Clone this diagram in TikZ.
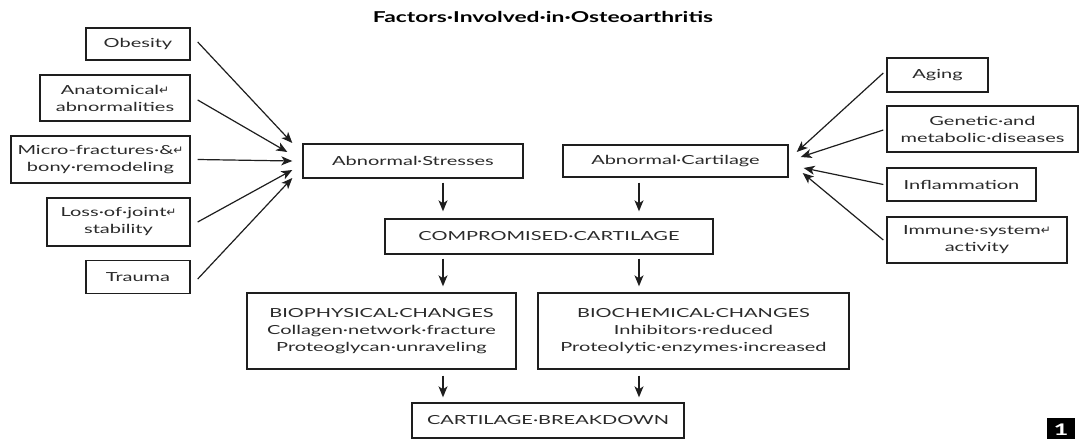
\documentclass[tikz,border=0pt]{standalone}
\usepackage{fontspec}
\setmainfont{Lato}[FakeStretch=1.6]
\newfontfamily\titlefont{Lato}[FakeStretch=1.52]
\newfontfamily\symfont{DejaVu Sans}
\newcommand\retmark{{\symfont\fontsize{12}{12}\selectfont\char"21B5}}
\usetikzlibrary{arrows.meta,calc}
\definecolor{ink}{HTML}{1E1E1E}
\definecolor{txt}{HTML}{2A2A2A}
\tikzset{
  box/.style={draw=ink, line width=1.4pt, align=center, inner sep=0pt,
    text=txt, font=\fontsize{12.5}{17}\selectfont},
  arr/.style={draw=ink, line width=1.2pt, -{Stealth[length=11pt,width=9pt,inset=3pt]}},
}
\begin{document}
\begin{tikzpicture}[x=1pt,y=-1pt]
  \useasboundingbox[fill=white] (0,0) rectangle (1080,439);

  % title
  \node[font=\titlefont\bfseries\fontsize{15}{18}\selectfont, text=black] (title) at (543,17)
    {Factors·Involved·in·Osteoarthritis};

  % mechanical factors (left)
  \node[box, minimum width=104, minimum height=32] (obes)   at (138,44)    {Obesity};
  \node[box, minimum width=150, minimum height=46] (anat)   at (115,98)    {Anatomical\retmark\\abnormalities};
  \node[box, minimum width=179, minimum height=47] (micro)  at (100.5,159.5) {Micro-fractures·\&\retmark\\bony·remodeling};
  \node[box, minimum width=143, minimum height=48] (loss)   at (118.5,222) {Loss·of·joint\retmark\\stability};
  \node[box, minimum width=104, minimum height=33] (trauma) at (138,277)   {Trauma};

  % biological factors (right)
  \node[box, minimum width=101, minimum height=34] (aging) at (937.5,75)   {Aging};
  \node[box, minimum width=191, minimum height=46] (gen)   at (982.5,129)  {Genetic·and\\metabolic·diseases};
  \node[box, minimum width=149, minimum height=33] (infl)  at (961.5,184.5) {Inflammation};
  \node[box, minimum width=180, minimum height=46] (imm)   at (977,240)    {Immune·system\retmark\\activity};

  % central chain
  \node[box, minimum width=220, minimum height=34] (stress) at (413,161)   {Abnormal·Stresses};
  \node[box, minimum width=225, minimum height=32] (cart)   at (675.5,161) {Abnormal·Cartilage};
  \node[box, minimum width=328, minimum height=35] (comp)   at (549,236.5) {COMPROMISED·CARTILAGE};
  \node[box, minimum width=269, minimum height=76] (bioph)  at (381.5,331)
    {BIOPHYSICAL·CHANGES\\Collagen·network·fracture\\Proteoglycan·unraveling};
  \node[box, minimum width=311, minimum height=76] (bioch)  at (693.5,331)
    {BIOCHEMICAL·CHANGES\\Inhibitors·reduced\\Proteolytic·enzymes·increased};
  \node[box, minimum width=272, minimum height=35] (brk)    at (548,420.5) {CARTILAGE·BREAKDOWN};

  % figure number tag
  \node[fill=black, text=white, inner sep=0pt, minimum width=28, minimum height=24,
    font=\bfseries\fontsize{16}{16}\selectfont] (tag) at (1061,430) {1};

  % left factors into abnormal stresses
  \draw[arr] ($(obes.east)+(7,-2)$)  -- ($(stress.west)+(-10,-18)$);
  \draw[arr] ($(anat.east)+(7,2)$)   -- ($(stress.west)+(-15,-9)$);
  \draw[arr] ($(micro.east)+(7,0)$)  -- ($(stress.west)+(-10,0)$);
  \draw[arr] ($(loss.east)+(7,0)$)   -- ($(stress.west)+(-10,9)$);
  \draw[arr] ($(trauma.east)+(7,2)$) -- ($(stress.west)+(-10,17)$);

  % right factors into abnormal cartilage
  \draw[arr] ($(aging.west)+(-3,-2)$) -- ($(cart.east)+(8,-9)$);
  \draw[arr] ($(gen.west)+(-3,1)$)    -- ($(cart.east)+(12,-4)$);
  \draw[arr] ($(infl.west)+(-3,0)$)   -- ($(cart.east)+(15,7)$);
  \draw[arr] ($(imm.west)+(-3,0)$)    -- ($(cart.east)+(14,12)$);

  % downward flow
  \coordinate (colL) at (443,0);
  \coordinate (colR) at (639,0);
  \draw[arr] ($(stress.south -| colL)+(0,4)$) -- ($(comp.north -| colL)+(0,-7)$);
  \draw[arr] ($(cart.south -| colR)+(0,5)$)   -- ($(comp.north -| colR)+(0,-7)$);
  \draw[arr] ($(comp.south -| colL)+(0,4)$)   -- ($(bioph.north -| colL)+(0,-6)$);
  \draw[arr] ($(comp.south -| colR)+(0,4)$)   -- ($(bioch.north -| colR)+(0,-6)$);
  \draw[arr] ($(bioph.south -| colL)+(0,6)$)  -- ($(brk.north -| colL)+(0,-5)$);
  \draw[arr] ($(bioch.south -| colR)+(0,6)$)  -- ($(brk.north -| colR)+(0,-5)$);
\end{tikzpicture}
\end{document}
